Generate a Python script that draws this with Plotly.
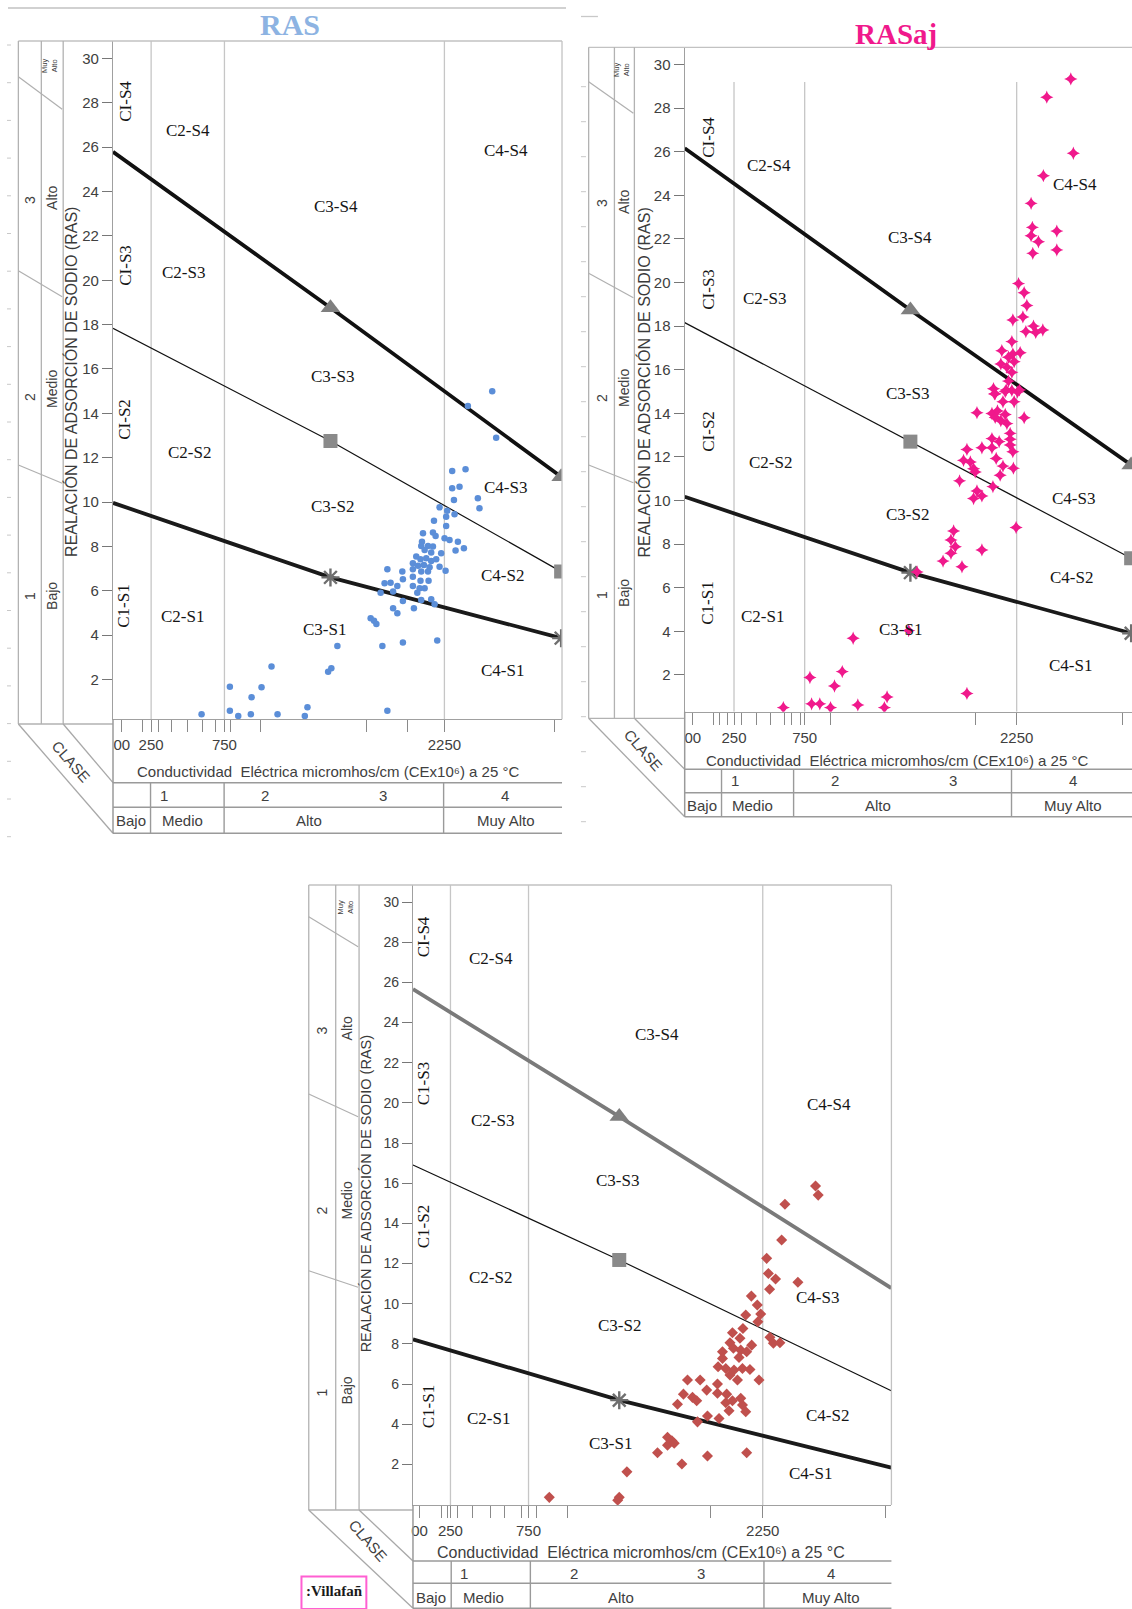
import plotly.graph_objects as go

# ---------------- DATA ----------------
CE_CLASS_LIMITS = [250, 750, 2250]          # vertical class limits (micromhos/cm)
Y_TICKS = list(range(2, 31, 2))
ROW1_LABELS = ["1", "2", "3", "4"]
ROW2_LABELS = ["Bajo", "Medio", "Alto", "Muy Alto"]
ZONES_H = ["C2-S4", "C4-S4", "C3-S4", "C2-S3", "C3-S3", "C2-S2", "C4-S3",
           "C3-S2", "C4-S2", "C2-S1", "C3-S1", "C4-S1"]

# Panel 1 : RAS  (CE, RAS)
RAS_CE = [2576, 2410, 2603, 2303, 2394, 2303, 2353, 2315, 2478, 2489, 2217, 2269, 2319, 2262,
          2179, 2262, 2104, 2172, 2190, 2251, 2285, 2342, 2383, 2326, 2097, 2092, 2138, 2172,
          2115, 2160, 2228, 2058, 2087, 2126, 2160, 2194, 2035, 2070, 2110, 2149, 2217, 2258,
          2035, 2092, 2138, 1963, 1861, 2035, 2087, 2142, 1967, 1883, 1842, 1929, 2035, 2081,
          2115, 1815, 1900, 2065, 1967, 2092, 2160, 2183, 1900, 1929, 2042, 1747, 1770, 1786,
          1520, 1827, 1967, 2201, 1479, 1861, 594, 787, 787, 844, 935, 930, 1003, 1071, 1112,
          1298, 1316, 1457]
RAS_SAR = [15.0, 14.33, 12.9, 11.4, 11.48, 10.62, 10.69, 10.09, 10.17, 9.72, 9.76, 9.61, 9.45, 9.34,
           9.15, 8.92, 8.59, 8.62, 8.47, 8.36, 8.29, 8.21, 7.91, 7.81, 8.21, 8.02, 8.02, 7.99,
           7.84, 7.72, 7.69, 7.54, 7.42, 7.46, 7.34, 7.42, 7.24, 7.12, 7.16, 7.06, 7.08, 6.9,
           6.97, 6.86, 6.86, 6.86, 6.97, 6.63, 6.45, 6.45, 6.52, 6.36, 6.34, 6.21, 6.21, 6.11,
           6.11, 5.91, 5.96, 5.91, 5.54, 5.58, 5.61, 5.39, 5.21, 4.98, 5.21, 4.76, 4.65, 4.5,
           3.51, 3.51, 3.66, 3.75, 2.5, 0.59, 0.43, 1.67, 0.58, 0.35, 1.19, 0.43, 1.65, 2.58, 0.43,
           0.35, 0.74, 2.35]

# Panel 2 : RASaj
RASAJ_CE = [2633, 2463, 2651, 2439, 2352, 2361, 2352, 2534, 2404, 2364, 2534, 2263, 2303, 2322,
            2223, 2294, 2369, 2315, 2435, 2385, 2216, 2145, 2223, 2275, 2192, 2138, 2232, 2181,
            2216, 2192, 2086, 2098, 2169, 2216, 2256, 2176, 2270, 2093, 2153, 2232, 1969, 2075,
            2114, 2169, 2098, 2138, 2181, 2303, 2204, 2204, 2075, 2126, 2004, 1898, 2204, 2223,
            2075, 2105, 1874, 1922, 1945, 1957, 2153, 2227, 2133, 1846, 2082, 1969, 2004, 1945,
            2246, 1804, 1785, 1816, 1785, 2004, 1863, 1729, 1545, 1486, 1093, 1016, 787, 961,
            1333, 1898, 599, 799, 857, 933, 1126, 1314]
RASAJ_SAR = [29.34, 28.5, 25.93, 24.9, 23.63, 22.53, 22.15, 22.36, 21.87, 21.34, 21.49, 19.95, 19.53,
             18.95, 18.28, 18.42, 18.0, 17.75, 17.82, 17.71, 17.29, 16.87, 16.72, 16.78, 16.57, 16.26,
             16.37, 16.11, 15.88, 15.48, 15.13, 14.9, 15.0, 15.05, 14.98, 15.07, 15.07, 14.89, 14.53,
             14.53, 14.03, 13.99, 14.11, 13.95, 13.81, 13.66, 13.53, 13.8, 13.08, 12.81, 12.84, 12.7,
             12.42, 12.34, 12.55, 12.24, 12.42, 11.93, 11.84, 11.77, 11.46, 11.31, 11.58, 11.48,
             11.16, 10.9, 10.64, 10.44, 10.21, 10.09, 8.76, 8.6, 8.19, 7.88, 7.58, 7.73, 6.96, 7.22,
             6.72, 4.03, 3.68, 2.15, 1.88, 1.49, 0.99, 1.15, 0.5, 0.67, 0.67, 0.5, 0.62, 0.5]

# Panel 3
RAS3_CE = [2588, 2605, 2392, 2371, 2275, 2286, 2332, 2475, 2294, 2177, 2215, 2141, 2237, 2219,
           2056, 2123, 2104, 2179, 2040, 2296, 2318, 2360, 1992, 2062, 2109, 2147, 1992, 2098,
           1964, 2013, 2066, 2120, 2168, 2040, 2088, 2226, 1768, 1849, 1891, 1960, 1742, 1800,
           1960, 2019, 2109, 1704, 1827, 2013, 2056, 2120, 2034, 2141, 1896, 1970, 1832, 1640,
           1668, 1640, 1683, 1576, 1896, 2147, 1732, 1380, 883, 1331, 1321]
RAS3_SAR = [15.86, 15.41, 14.95, 13.17, 12.26, 11.51, 11.23, 11.07, 10.72, 10.38, 9.94, 9.44, 9.49,
            9.1, 8.56, 8.77, 8.28, 7.94, 8.06, 8.33, 8.03, 8.06, 7.61, 7.78, 7.69, 7.61, 7.28, 7.33,
            6.86, 6.78, 6.7, 6.78, 6.73, 6.45, 6.2, 6.2, 6.2, 6.2, 5.7, 6.0, 5.5, 5.34, 5.54, 5.5,
            5.29, 5.0, 5.17, 5.07, 5.17, 4.96, 4.67, 4.62, 4.41, 4.29, 4.12, 3.35, 3.18, 2.96, 3.05,
            2.58, 2.42, 2.58, 2.02, 1.63, 0.36, 0.36, 0.22]

# Boundary lines S3/S4, S2/S3, S1/S2 (CE points, RAS values)
P1_LINE_CE = [-10, 1473, 3046]
P1_S34, P1_S23, P1_S12 = [25.79, 18.76, 11.14], [17.83, 12.75, 6.86], [9.96, 6.6, 3.86]
P2_LINE_CE = [-99, 1498, 3060]
P2_S34, P2_S23, P2_S12 = [26.16, 18.74, 11.63], [18.16, 12.7, 7.35], [10.17, 6.69, 3.91]
P3_LINE_CE = [10, 1331, 3073]
P3_S34, P3_S23, P3_S12 = [25.66, 19.32, 10.78], [16.91, 12.18, 5.67], [8.23, 5.2, 1.84]

# x-axis tick marks (unlabelled) and labelled ticks
P1_MINOR = [194, 300, 392, 499, 598, 690, 788, 998, 1717, 1996, 3000]
P2_MINOR = [107, 150, 207, 306, 411, 510, 609, 660, 722, 933, 1958, 3000]
P3_MINOR = [191, 229, 293, 394, 506, 596, 703, 803, 999, 1913, 3036]
P1_LABELLED = [50, 250, 750, 2250]
P2_LABELLED = [-42, 250, 750, 2250]
P3_LABELLED = [52, 250, 750, 2250]
X_TICK_TEXT = ["00", "250", "750", "2250"]

# ---------------- helpers ----------------
W, H = 1132, 1609
SERIF = "Liberation Serif, Times New Roman, serif"
SANS = "Liberation Sans, Arial, sans-serif"
GRID = "#c6c6c6"
FRAME = "#c2c2c2"
TABLE = "#9a9a9a"
TXT = "#404040"


def PX(x):
    return x / W


def PY(y):
    return 1 - y / H


fig = go.Figure()
shapes = []
annos = []


def seg(x0, y0, x1, y1, color=FRAME, width=1.3):
    shapes.append(dict(type="line", xref="paper", yref="paper",
                       x0=PX(x0), y0=PY(y0), x1=PX(x1), y1=PY(y1),
                       line=dict(color=color, width=width), layer="above"))


def text(x, y, s, size=15, family=SANS, color=TXT, angle=0, **kw):
    annos.append(dict(xref="paper", yref="paper", x=PX(x), y=PY(y), text=s,
                      showarrow=False, xanchor="center", yanchor="middle",
                      textangle=angle, font=dict(family=family, size=size, color=color), **kw))


panels = [
    dict(k="", xdom=(111.2, 561.0), ydom=(41.0, 719.3), xr=(-10, 3052), yr=(0.2, 30.79),
         minor=P1_MINOR, lab=P1_LABELLED, ce=RAS_CE, sar=RAS_SAR, lce=P1_LINE_CE,
         lines=(P1_S34, P1_S23, P1_S12), s34col="#111111", gtop=30.79, endmk=True,
         mk=dict(symbol="circle", size=6.5, color="#5b8ed8"), ytf=15),
    dict(k="2", xdom=(683.9, 1132.0), ydom=(47.3, 711.7), xr=(-99, 3066), yr=(0.31, 30.79),
         minor=P2_MINOR, lab=P2_LABELLED, ce=RASAJ_CE, sar=RASAJ_SAR, lce=P2_LINE_CE,
         lines=(P2_S34, P2_S23, P2_S12), s34col="#111111", gtop=29.2, endmk=True,
         mk=dict(symbol="star-diamond", size=9.5, color="#f0198c"), ytf=15),
    dict(k="3", xdom=(411.7, 891.0), ydom=(885.0, 1505.0), xr=(10, 3074), yr=(-0.02, 30.85),
         minor=P3_MINOR, lab=P3_LABELLED, ce=RAS3_CE, sar=RAS3_SAR, lce=P3_LINE_CE,
         lines=(P3_S34, P3_S23, P3_S12), s34col="#7a7a7a", gtop=30.85, endmk=False,
         mk=dict(symbol="diamond", size=8.5, color="#c0504d"), ytf=14),
]

layout_axes = {}
for p in panels:
    k = p["k"]
    xa, ya = "x" + k, "y" + k
    tickvals = p["lab"] + p["minor"]
    ticktext = X_TICK_TEXT + [""] * len(p["minor"])
    layout_axes["xaxis" + k] = dict(
        domain=[PX(p["xdom"][0]), PX(p["xdom"][1])], range=list(p["xr"]), anchor=ya,
        showgrid=False, zeroline=False, showline=True, linecolor="#a0a0a0", linewidth=1.3,
        ticks="outside", ticklen=12, tickcolor="#8a8a8a", tickwidth=1.2,
        tickvals=tickvals, ticktext=ticktext,
        tickfont=dict(family=SANS, size=15, color=TXT), fixedrange=True)
    layout_axes["yaxis" + k] = dict(
        domain=[PY(p["ydom"][1]), PY(p["ydom"][0])], range=list(p["yr"]), anchor=xa,
        showgrid=False, zeroline=False, showline=True, linecolor="#a0a0a0", linewidth=1.3,
        ticks="outside", ticklen=10, tickcolor="#777777", tickwidth=1.2,
        tickvals=Y_TICKS, tickfont=dict(family=SANS, size=p["ytf"], color=TXT), fixedrange=True)

    # class-limit vertical lines
    for v in CE_CLASS_LIMITS:
        shapes.append(dict(type="line", xref=xa, yref=ya, x0=v, x1=v, y0=p["yr"][0], y1=p["gtop"],
                           line=dict(color=GRID, width=1.3), layer="below"))

    s34, s23, s12 = p["lines"]
    fig.add_trace(go.Scatter(x=p["lce"], y=s34, mode="lines", xaxis=xa, yaxis=ya,
                             line=dict(color=p["s34col"], width=3.8), showlegend=False, hoverinfo="skip"))
    fig.add_trace(go.Scatter(x=p["lce"], y=s23, mode="lines", xaxis=xa, yaxis=ya,
                             line=dict(color="#111111", width=1.2), showlegend=False, hoverinfo="skip"))
    fig.add_trace(go.Scatter(x=p["lce"], y=s12, mode="lines", xaxis=xa, yaxis=ya,
                             line=dict(color="#1a1a1a", width=3.8), showlegend=False, hoverinfo="skip"))
    sl = slice(1, 3) if p["endmk"] else slice(1, 2)
    fig.add_trace(go.Scatter(x=p["lce"][sl], y=s34[sl], mode="markers", xaxis=xa, yaxis=ya,
                             marker=dict(symbol="triangle-up", size=17, color="#7f7f7f"),
                             showlegend=False, hoverinfo="skip"))
    fig.add_trace(go.Scatter(x=p["lce"][sl], y=s23[sl], mode="markers", xaxis=xa, yaxis=ya,
                             marker=dict(symbol="square", size=14, color="#8a8a8a"),
                             showlegend=False, hoverinfo="skip"))
    fig.add_trace(go.Scatter(x=p["lce"][sl], y=s12[sl], mode="markers", xaxis=xa, yaxis=ya,
                             marker=dict(symbol="asterisk-open", size=15, color="#6f6f6f",
                                         line=dict(color="#6f6f6f", width=2.4)),
                             showlegend=False, hoverinfo="skip"))
    fig.add_trace(go.Scatter(x=p["ce"], y=p["sar"], mode="markers", xaxis=xa, yaxis=ya,
                             marker=p["mk"], showlegend=False))

# ---------------- frames, tables, labels ----------------
COND = "Conductividad  Eléctrica micromhos/cm (CEx10⁶) a 25 °C"
YTITLE = "REALACIÓN DE ADSORCIÓN DE SODIO (RAS)"

frames = [
    dict(L=16.4, c1=39.4, c2=61.3, A=111.2, R=561.0, T=41.0, CB=724.0, XA=719.3,
         rows=(782.7, 807.3, 833.3), div=(148.8, 222.5, 442.4),
         diag=((76.7, 109.3), (270.7, 296.7), (465.0, 483.3)), rframe=True,
         ytitle=(69, 382, 16), cols=(28, 50),
         colpos=((596, 397, 200), (596, 389, 198, 66)),
         cond=(327, 771.7, 15), r1y=795, r2y=820,
         r1x=(162, 263, 382, 504), r2x=(129.5, 180.5, 307.4, 504.4), clase=(69, 762)),
    dict(L=587.7, c1=613.5, c2=633.5, A=683.9, R=1132.0, T=47.3, CB=718.3, XA=711.7,
         rows=(769.3, 792.7, 816.7), div=(720.8, 793.0, 1011.3),
         diag=((81.7, 113.3), (273.3, 297.7), (465.0, 482.7)), rframe=False,
         ytitle=(642.7, 383, 16), cols=(601, 623),
         colpos=((595, 398, 203), (593, 388, 202, 70)),
         cond=(897, 760, 15), r1y=780.5, r2y=805,
         r1x=(734, 834, 952.5, 1073), r2x=(701.5, 751.5, 877.5, 1073), clase=(643, 750)),
    dict(L=307.3, c1=334.3, c2=357.7, A=411.7, R=891.0, T=885.0, CB=1510.0, XA=1505.0,
         rows=(1561.0, 1583.3, 1608.3), div=(450.0, 529.3, 763.3),
         diag=((916.7, 946.7), (1094.0, 1116.7), (1270.7, 1287.3)), rframe=True,
         ytitle=(365, 1194, 14.5), cols=(321, 346),
         colpos=((1392, 1210, 1030), (1390, 1200, 1028, 907)),
         cond=(640, 1552, 16), r1y=1573.5, r2y=1597,
         r1x=(463, 573, 700, 830), r2x=(430, 482, 620, 830), clase=(367, 1540)),
]

for f in frames:
    L, c1, c2, A, R, T = f["L"], f["c1"], f["c2"], f["A"], f["R"], f["T"]
    seg(L, T, R, T, FRAME, 1.3)                   # top frame
    for xx in (L, c1, c2):
        seg(xx, T, xx, f["CB"], "#b2b2b2", 1.3)   # class columns
    seg(L, f["CB"], A, f["CB"], "#b2b2b2", 1.3)
    if f["rframe"]:
        seg(R, T, R, f["XA"], FRAME, 1.3)
    # CLASE parallelogram
    seg(L, f["CB"], A, f["rows"][2], "#a8a8a8", 1.3)
    seg(c2, f["CB"], A, f["rows"][0], "#a8a8a8", 1.3)
    # table under the x axis
    seg(A, f["XA"], A, f["rows"][2], TABLE, 1.5)
    for yy in f["rows"]:
        seg(A, yy, R, yy, TABLE, 1.6)
    for xx in f["div"]:
        seg(xx, f["rows"][0], xx, f["rows"][2], TABLE, 1.4)
    # slanted separators in class columns
    for (yl, yr) in f["diag"]:
        seg(L, yl, c2 - 1, yr, "#b0b0b0", 1.2)
    # texts
    tx, ty, ts = f["ytitle"]
    text(tx, ty, YTITLE, size=ts, angle=-90, color="#3a3a3a")
    (n1, n2, n3), (b, m, a, ma) = f["colpos"]
    text(f["cols"][0], n1, "1", 14, angle=-90)
    text(f["cols"][0], n2, "2", 14, angle=-90)
    text(f["cols"][0], n3, "3", 14, angle=-90)
    text(f["cols"][1], b, "Bajo", 14, angle=-90)
    text(f["cols"][1], m, "Medio", 14, angle=-90)
    text(f["cols"][1], a, "Alto", 14, angle=-90)
    text(f["cols"][1] - 2, ma, "Muy<br>Alto", 7.5, angle=-90)
    cx, cy, cs = f["cond"]
    text(cx, cy, COND, cs)
    for xx, s in zip(f["r1x"], ROW1_LABELS):
        text(xx, f["r1y"], s, 15)
    for xx, s in zip(f["r2x"], ROW2_LABELS):
        text(xx, f["r2y"], s, 15)
    text(f["clase"][0], f["clase"][1], "CLASE", 15, angle=49)

# small scan dashes on far left
yy = 45.0
while yy < 840:
    seg(5, yy, 9, yy, "#c8c8c8", 1.0)
    yy += 37.7
yy = 86.7
while yy < 830:
    seg(580, yy, 585, yy, "#c8c8c8", 1.0)
    yy += 35.0

# header rules
seg(6, 8, 565, 8, "#c2c2c2", 1.5)
seg(580, 16.5, 597, 16.5, "#c8c8c8", 1.3)

# titles
text(289, 24, "<b>RAS</b>", 30, family=SERIF, color="#8db3e2")
text(896, 34, "<b>RASaj</b>", 29, family=SERIF, color="#f0198c")

# zone labels (horizontal) per panel, in reading order of ZONES_H
Z1 = [(186, 131), (505, 150), (335, 206), (182, 273), (331, 377), (188, 452), (504, 487),
      (331, 506), (501, 575), (181, 616), (323, 629), (501, 670)]
Z2 = [(768, 166), (1075, 184), (910, 237), (764, 299), (907, 393), (770, 463), (1073, 498),
      (907, 514), (1071, 577), (762, 616), (900, 629), (1070, 665)]
Z3 = [(490, 958), (828, 1104), (656, 1034), (491, 1120), (617, 1180), (489, 1277), (817, 1297),
      (619, 1325), (827, 1415), (487, 1418), (610, 1443), (810, 1473)]
for Z in (Z1, Z2, Z3):
    for (x, y), s in zip(Z, ZONES_H):
        text(x, y, s, 17, family=SERIF, color="#151515")
# vertical C1 labels
V1 = [(124, 101, "CI-S4"), (124, 265, "CI-S3"), (122, 419, "CI-S2"), (122, 606, "C1-S1")]
V2 = [(707, 137, "CI-S4"), (707, 289, "CI-S3"), (707, 431, "CI-S2"), (706, 603, "C1-S1")]
V3 = [(422, 937, "CI-S4"), (422, 1084, "C1-S3"), (422, 1227, "C1-S2"), (427, 1407, "C1-S1")]
for V in (V1, V2, V3):
    for x, y, s in V:
        text(x, y, s, 17, family=SERIF, color="#151515", angle=-90)

# source box
shapes.append(dict(type="rect", xref="paper", yref="paper", x0=PX(300), x1=PX(365),
                   y0=PY(1609), y1=PY(1576.5), line=dict(color="#ff5fd2", width=2),
                   fillcolor="rgba(0,0,0,0)"))
text(333, 1591, "<b>:Villafañ</b>", 15, family=SERIF, color="#1a1a1a")

fig.update_layout(
    width=W, height=H, margin=dict(l=0, r=0, t=0, b=0),
    paper_bgcolor="white", plot_bgcolor="white", showlegend=False,
    shapes=shapes, annotations=annos, **layout_axes)

fig.write_html("out.html", config={"displayModeBar": False},
               post_script="document.body.style.margin='0';")
